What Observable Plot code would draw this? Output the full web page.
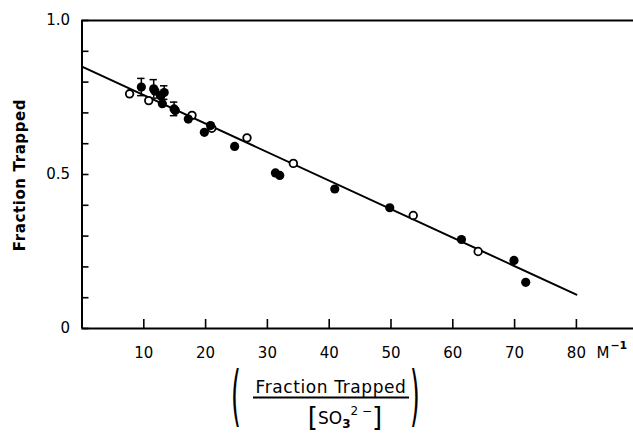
<!DOCTYPE html>
<html><head><meta charset="utf-8">
<script src="https://cdn.jsdelivr.net/npm/d3@7"></script>
<script src="https://cdn.jsdelivr.net/npm/@observablehq/plot@0.6"></script>
<style>body{margin:0;background:#fff} svg{display:block}</style>
</head><body><div id="chart"></div>
<script>
// open circles
const openX = [7.7, 10.8, 17.8, 21.0, 26.7, 34.2, 53.6, 64.1];
const openY = [0.762, 0.740, 0.692, 0.650, 0.619, 0.536, 0.367, 0.250];
// filled circles
const filledX = [9.6, 11.6, 11.8, 12.7, 13.3, 13.0, 14.9, 15.1, 17.2, 20.8, 19.8, 24.7, 31.3, 32.0, 40.9, 49.8, 61.4, 69.9, 71.8];
const filledY = [0.784, 0.778, 0.771, 0.756, 0.766, 0.730, 0.713, 0.708, 0.680, 0.659, 0.637, 0.591, 0.505, 0.497, 0.453, 0.392, 0.289, 0.221, 0.150];
// error bars
const errX = [9.6, 11.6, 13.3, 14.9];
const errY = [0.784, 0.778, 0.766, 0.713];
const errSize = [0.028, 0.030, 0.022, 0.022];
// fitted line
const fitX = [0, 80];
const fitY = [0.85, 0.11];
// ticks
const xTicks = [10, 20, 30, 40, 50, 60, 70, 80];
const yTicks = [0, 0.1, 0.2, 0.3, 0.4, 0.5, 0.6, 0.7, 0.8, 0.9, 1.0];
const yLabels = [0, 0.5, 1.0];
const xTitleNum = "Fraction Trapped";
const yTitle = "Fraction Trapped";
const unitM = "M";
const unitExp = "−1";

const openData = openX.map((x, i) => ({x, y: openY[i]}));
const filledData = filledX.map((x, i) => ({x, y: filledY[i]}));
const errData = errX.map((x, i) => ({x, y1: errY[i] - errSize[i], y2: errY[i] + errSize[i], xa: x - 0.6, xb: x + 0.6}));
const fitData = fitX.map((x, i) => ({x, y: fitY[i]}));

const W = 633, H = 435;
const mL = 81.5, mT = 20, mB = 107;
const frameW = W - mL, frameH = H - mT - mB;
const plot = Plot.plot({
  width: W, height: H,
  marginLeft: mL, marginRight: 0, marginTop: mT, marginBottom: mB,
  style: {fontFamily: "DejaVu Sans", fontSize: "15px", background: "#fff", color: "#000"},
  x: {domain: [0, 89.24], axis: null},
  y: {domain: [0, 1], axis: null},
  marks: [
    Plot.ruleY([0, 1], {strokeWidth: 2}),
    Plot.ruleX([0], {strokeWidth: 2}),
    // inward tick marks
    Plot.ruleX(xTicks, {x: d => d, insetTop: frameH - 9, strokeWidth: 1.6}),
    Plot.ruleY(yTicks, {y: d => d, insetRight: frameW - 7, strokeWidth: 1.6}),
    Plot.axisX({ticks: xTicks, tickSize: 0, tickPadding: 19, fontSize: 15, label: null}),
    Plot.axisY({ticks: yLabels, tickSize: 0, tickPadding: 12, fontSize: 15, label: null,
      tickFormat: d => d === 0 ? "0" : d.toFixed(1)}),
    Plot.text([{x: 80, t: unitM}], {x: "x", text: "t", frameAnchor: "bottom", lineAnchor: "top", dy: 19, dx: 20, textAnchor: "start", fontSize: 15}),
    Plot.text([{x: 80, t: unitExp}], {x: "x", text: "t", frameAnchor: "bottom", lineAnchor: "top", dy: 13, dx: 34, textAnchor: "start", fontSize: 11, fontWeight: "bold"}),
    Plot.line(fitData, {x: "x", y: "y", strokeWidth: 2}),
    Plot.ruleX(errData, {x: "x", y1: "y1", y2: "y2", strokeWidth: 1.5}),
    Plot.ruleY(errData, {y: "y1", x1: "xa", x2: "xb", strokeWidth: 1.5}),
    Plot.ruleY(errData, {y: "y2", x1: "xa", x2: "xb", strokeWidth: 1.5}),
    Plot.dot(openData, {x: "x", y: "y", r: 3.8, stroke: "#000", strokeWidth: 1.8, fill: "#fff"}),
    Plot.dot(filledData, {x: "x", y: "y", r: 4.6, fill: "#000", stroke: "none"})
  ]
});
document.getElementById("chart").appendChild(plot);

const svg = d3.select(plot);
const font = "DejaVu Sans";
// y title
svg.append("text")
  .attr("transform", "translate(20,175) rotate(-90)")
  .attr("text-anchor", "middle").attr("dominant-baseline", "central")
  .attr("font-family", font).attr("font-weight", "bold").attr("font-size", 15)
  .attr("letter-spacing", 0.6)
  .text(yTitle);
// x title: fraction
svg.append("text")
  .attr("x", 331).attr("y", 393)
  .attr("text-anchor", "middle").attr("font-family", font).attr("font-size", 17)
  .attr("letter-spacing", 0.6)
  .text(xTitleNum);
svg.append("line").attr("x1", 253).attr("x2", 409).attr("y1", 397.5).attr("y2", 397.5)
  .attr("stroke", "#000").attr("stroke-width", 2);
const den = svg.append("text").attr("x", 345).attr("y", 424)
  .attr("text-anchor", "middle").attr("font-family", font).attr("font-size", 17);
den.append("tspan").attr("font-size", 26).attr("dy", 2).text("[");
den.append("tspan").attr("dy", -2).text("SO");
den.append("tspan").attr("font-size", 12).attr("font-weight", "bold").attr("dy", 4).text("3");
den.append("tspan").attr("font-size", 12).attr("dy", -13).text("2 −");
den.append("tspan").attr("font-size", 26).attr("dy", 11).text("]");
svg.append("text").attr("transform", "translate(236,418) scale(0.38,1)")
  .attr("font-family", font).attr("font-size", 66).text("(");
svg.append("text").attr("transform", "translate(415,418) scale(0.38,1)")
  .attr("font-family", font).attr("font-size", 66).text(")");
</script>
</body></html>
